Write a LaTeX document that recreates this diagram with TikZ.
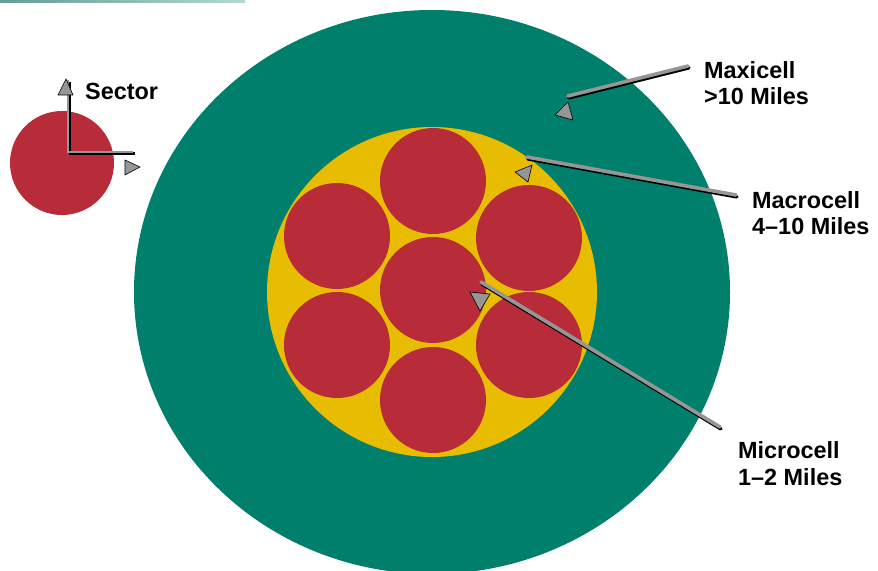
\documentclass[tikz,border=0pt]{standalone}
\usepackage{fontspec}
\setmainfont{Liberation Sans}
\definecolor{maxi}{RGB}{0,128,108}
\definecolor{cellred}{RGB}{184,44,58}
\definecolor{macro}{RGB}{232,188,0}
\definecolor{leadgray}{RGB}{150,150,150}
\begin{document}
\begin{tikzpicture}[x=1bp,y=-1bp,
  lbl/.style={anchor=base west,inner sep=0pt,align=left,font=\fontsize{23.5}{27}\bfseries\selectfont},
  shadowline/.style={line width=3.6bp,black,line cap=round},
  leadline/.style={line width=3.6bp,leadgray,line cap=round},
  tip/.style={fill=leadgray,draw=black,line width=0.6bp}]
\useasboundingbox (0,0) rectangle (878,571);
\fill[white] (0,0) rectangle (878,571);
% top bar remnant
\shade[left color=maxi!70!black!60, right color=maxi!30] (0,0) rectangle (245,3);
% big circles
\fill[maxi] (432,292) ellipse [x radius=298, y radius=282];
\fill[macro] (432,292) circle [radius=165];
\foreach \n/\cx/\cy in {c/433/290, t/433/181, b/433/400, ul/337/236, ur/529/238, ll/337/345, lr/529/345}
  \fill[cellred] (\cx,\cy) circle [radius=53];
% sector cell
\fill[cellred] (62,163) circle [radius=52];
\coordinate (stop) at (68,80);
\coordinate (scorner) at (68,152);
\coordinate (sright) at (133,152);
\draw[black,line width=2.6bp] ([shift={(1.8,1.8)}]stop) -- ([shift={(1.8,1.8)}]scorner) -- ([shift={(1.8,1.8)}]sright);
\draw[leadgray,line width=2.6bp] (stop) -- (scorner) -- (sright);
\filldraw[tip] (58,95) -- (66,79) -- (73,95) -- cycle;
\filldraw[tip] (125,160) -- (140,167) -- (125,175) -- cycle;
\node[lbl] (sector) at (85,100) {Sector};
% labels (anchor at baseline of second line)
\node[lbl] (maxi) at (704,105) {Maxicell\\>10 Miles};
\node[lbl] (macro) at (752,235) {Macrocell\\4–10 Miles};
\node[lbl] (micro) at (738,485) {Microcell\\1–2 Miles};
% leader lines
\coordinate (m1a) at (688,66); \coordinate (m1b) at (568,96);
\coordinate (m2a) at (527,157); \coordinate (m2b) at (736,195);
\coordinate (m3a) at (481,282); \coordinate (m3b) at (720,427);
\foreach \a/\b in {m1a/m1b, m2a/m2b, m3a/m3b}{
  \draw[shadowline] ([shift={(0.8,1.8)}]\a) -- ([shift={(0.8,1.8)}]\b);
  \draw[leadline] (\a) -- (\b);
}
\filldraw[tip] (555,115) -- (568,102) -- (573,120) -- cycle;
\filldraw[tip] (515,172) -- (532,165) -- (528,182) -- cycle;
\filldraw[tip] (470,292) -- (490,294) -- (480,311) -- cycle;
\end{tikzpicture}
\end{document}
